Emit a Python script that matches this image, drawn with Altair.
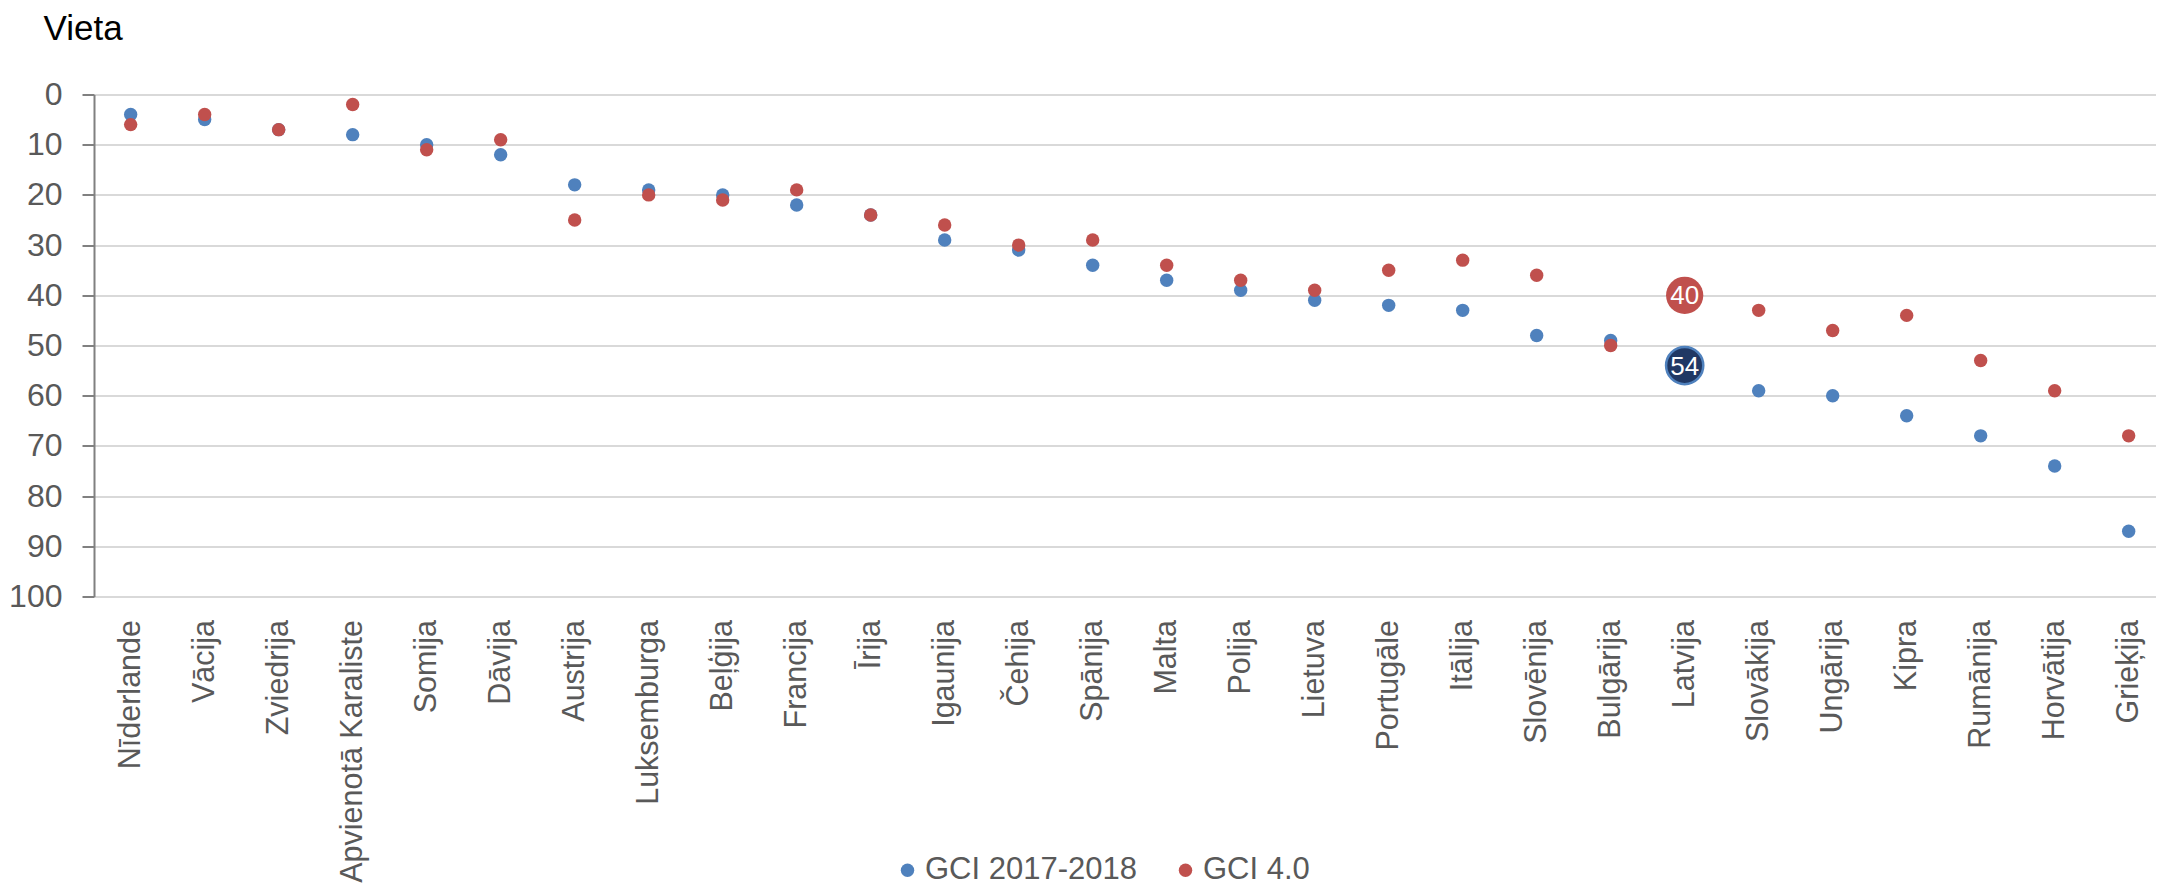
import altair as alt
import pandas as pd

countries = ["Nīderlande", "Vācija", "Zviedrija", "Apvienotā Karaliste", "Somija", "Dāvija",
             "Austrija", "Luksemburga", "Beļģija", "Francija", "Īrija", "Igaunija", "Čehija",
             "Spānija", "Malta", "Polija", "Lietuva", "Portugāle", "Itālija", "Slovēnija",
             "Bulgārija", "Latvija", "Slovākija", "Ungārija", "Kipra", "Rumānija", "Horvātija",
             "Grieķija"]
gci_2017 = [4, 5, 7, 8, 10, 12, 18, 19, 20, 22, 24, 29, 31, 34, 37, 39, 41, 42, 43, 48, 49, 54,
            59, 60, 64, 68, 74, 87]
gci_40 = [6, 4, 7, 2, 11, 9, 25, 20, 21, 19, 24, 26, 30, 29, 34, 37, 39, 35, 33, 36, 50, 40,
          43, 47, 44, 53, 59, 68]
series = ["GCI 2017-2018", "GCI 4.0"]
y_ticks = [0, 10, 20, 30, 40, 50, 60, 70, 80, 90, 100]
highlight = "Latvija"

rows = []
for c, v in zip(countries, gci_2017):
    rows.append({"valsts": c, "vieta": v, "indekss": series[0], "ord": 0})
for c, v in zip(countries, gci_40):
    rows.append({"valsts": c, "vieta": v, "indekss": series[1], "ord": 1})
df = pd.DataFrame(rows)

REG = "Liberation Sans, Arial, sans-serif"
GRAY = "#595959"

x = alt.X("valsts:N", sort=countries,
          scale=alt.Scale(padding=0.4324, align=0.573),
          axis=alt.Axis(title=None, labelAngle=270, labelAlign="right", labelBaseline="middle",
                        labelFont=REG, labelFontSize=30.5, labelColor=GRAY, labelPadding=23,
                        labelLimit=0, ticks=False, domain=False, grid=False,
                        labelOverlap=False))
y = alt.Y("vieta:Q",
          scale=alt.Scale(domain=[0, 100], reverse=True, nice=False, zero=False),
          axis=alt.Axis(values=y_ticks, title="Vieta", titleAngle=0, titleAlign="left",
                        titleBaseline="alphabetic", titleX=-51, titleY=-55,
                        titleFont=REG, titleFontSize=35, titleFontWeight="normal",
                        titleColor="black",
                        labelFont=REG, labelFontSize=32, labelColor=GRAY, labelPadding=20,
                        tickSize=12, tickColor="#808080", tickWidth=2,
                        domainColor="#808080", domainWidth=2,
                        grid=True, gridColor="#D9D9D9", gridWidth=2))

color = alt.Color("indekss:N",
                  scale=alt.Scale(domain=series, range=["#4F81BD", "#C0504D"]),
                  legend=alt.Legend(title=None, orient="none", legendX=798, legendY=760,
                                    direction="horizontal", labelFont=REG, labelFontSize=31,
                                    labelColor=GRAY, labelLimit=0, symbolType="circle",
                                    symbolSize=180, symbolStrokeWidth=0, labelOffset=2,
                                    columnPadding=33, padding=0))

base = alt.Chart(df)

points = base.mark_circle(size=180, opacity=1).encode(
    x=x, y=y, color=color, order=alt.Order("ord:Q"))

hl_blue = base.transform_filter(
    (alt.datum.valsts == highlight) & (alt.datum.indekss == series[0])
).mark_point(filled=True, size=1385, fill="#203864", stroke="#4F81BD",
             strokeWidth=2.5, opacity=1).encode(x=x, y=y)

hl_red = base.transform_filter(
    (alt.datum.valsts == highlight) & (alt.datum.indekss == series[1])
).mark_point(filled=True, size=1385, fill="#C0504D", strokeWidth=0, opacity=1).encode(x=x, y=y)

hl_text = base.transform_filter(alt.datum.valsts == highlight).mark_text(
    color="white", font=REG, fontSize=26, baseline="middle", align="center", dy=1
).encode(x=x, y=y, text="vieta:Q")

chart = alt.layer(points, hl_blue, hl_red, hl_text).properties(
    width=2062, height=502,
    autosize=alt.AutoSizeParams(type="none"),
    padding={"left": 86, "top": 86.5, "right": 0, "bottom": 290},
).configure_view(stroke=None).configure(background="white")

chart.save("out.html", embed_options={"renderer": "svg", "actions": False})
